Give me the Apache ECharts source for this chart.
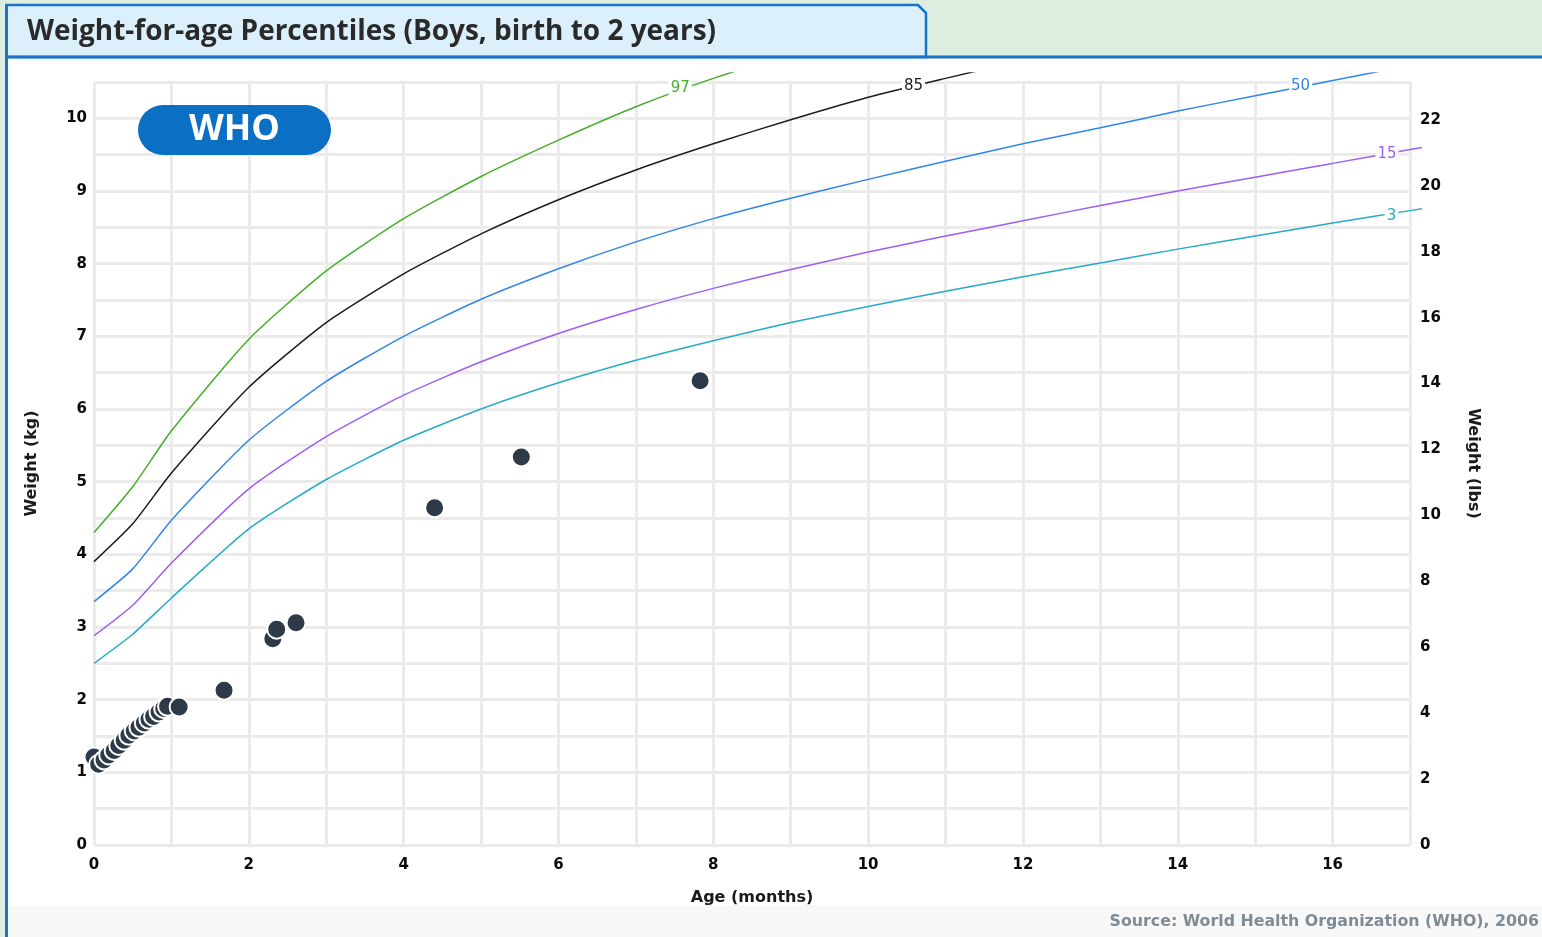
<!DOCTYPE html>
<html><head><meta charset="utf-8">
<script src="https://cdn.jsdelivr.net/npm/echarts@6/dist/echarts.min.js"></script>
<style>html,body{margin:0;padding:0;background:#ddeee0;overflow:hidden}#c{width:1542px;height:937px}</style>
</head><body><div id="c"></div>
<script>
// ---- data ----
const titleText = 'Weight-for-age Percentiles (Boys, birth to 2 years)';
const sourceText = 'Source: World Health Organization (WHO), 2006';
const months = [0, 0.5, 1, 2, 3, 4, 5, 6, 7, 8, 9, 10, 11, 12, 13, 14, 15, 16, 17, 18];
const p3  = [2.50, 2.90, 3.40, 4.35, 5.03, 5.57, 6.00, 6.36, 6.67, 6.94, 7.19, 7.41, 7.62, 7.82, 8.01, 8.20, 8.38, 8.56, 8.73, 8.90];
const p15 = [2.88, 3.30, 3.88, 4.90, 5.62, 6.19, 6.65, 7.04, 7.37, 7.66, 7.92, 8.16, 8.38, 8.59, 8.80, 9.00, 9.19, 9.38, 9.57, 9.75];
const p50 = [3.35, 3.80, 4.47, 5.57, 6.38, 7.00, 7.51, 7.93, 8.30, 8.62, 8.90, 9.16, 9.41, 9.65, 9.87, 10.10, 10.31, 10.52, 10.73, 10.94];
const p85 = [3.90, 4.42, 5.12, 6.30, 7.19, 7.86, 8.41, 8.88, 9.29, 9.65, 9.98, 10.29, 10.55, 10.80, 11.05, 11.29, 11.52, 11.75, 11.98, 12.20];
const p97 = [4.30, 4.93, 5.70, 6.96, 7.90, 8.62, 9.20, 9.70, 10.16, 10.55, 10.88, 11.18, 11.46, 11.73, 12.00, 12.27, 12.53, 12.78, 13.03, 13.28];
const percentileNames = ['97', '85', '50', '15', '3'];
const labelMonths = [8, 11, 16, 17, 17];
const ptMonths  = [0.00, 0.06, 0.13, 0.19, 0.26, 0.32, 0.39, 0.45, 0.52, 0.58, 0.65, 0.71, 0.77, 0.84, 0.90, 0.95, 1.10, 1.68, 2.31, 2.36, 2.61, 4.40, 5.52, 7.83];
const ptWeights = [1.21, 1.11, 1.17, 1.24, 1.30, 1.37, 1.44, 1.51, 1.57, 1.62, 1.68, 1.73, 1.77, 1.83, 1.88, 1.91, 1.90, 2.13, 2.84, 2.97, 3.06, 4.64, 5.34, 6.39];
const xMax = 17, yMaxKg = 10.5, KG_TO_LB = 2.20462;

// ---- layout / style ----
const G = {left: 94, top: 82, width: 1316, height: 763};
const PAD_TOP = 9, PAD_RIGHT = 10; // curves run a little past the grid frame
const seriesStyle = {
  '97': {color: '#45ae2a', offset: [-33, 10]},
  '85': {color: '#1c1c1c', offset: [-32, 8]},
  '50': {color: '#2f86e8', offset: [-32, 6]},
  '15': {color: '#a05cf4', offset: [-23, 5]},
  '3':  {color: '#25abc6', offset: [-18.5, 5.5]}
};
const curves = {'97': p97, '85': p85, '50': p50, '15': p15, '3': p3};
const tickFont = {fontFamily: 'DejaVu Sans', fontWeight: 'bold', fontSize: 15, color: '#0a0a0a'};
const nameFont = {fontFamily: 'DejaVu Sans', fontWeight: 'bold', fontSize: 16, color: '#1a1a1a'};

// measure title to mimic the condensed face
const cv = document.createElement('canvas').getContext('2d');
const titleFont = 'bold 28px "Open Sans"';
cv.font = titleFont;
const titleScale = 689 / cv.measureText(titleText).width;

const chart = echarts.init(document.getElementById('c'), null, {renderer: 'canvas'});

const lineSeries = percentileNames.map((name, k) => {
  const vals = curves[name];
  const li = months.indexOf(labelMonths[k]);
  const st = seriesStyle[name];
  return {
    type: 'line', name: name, xAxisIndex: 1, yAxisIndex: 2,
    data: months.map((m, i) => i === li ? {
      value: [m, vals[i]],
      label: {show: true, position: 'inside', offset: st.offset, formatter: name,
        color: st.color, fontFamily: 'DejaVu Sans', fontSize: 15, backgroundColor: '#fff', padding: [0, 2]}
    } : [m, vals[i]]),
    smooth: 0.2, showSymbol: true, symbol: 'circle', symbolSize: 0,
    clip: true, silent: true, z: 3,
    lineStyle: {color: st.color, width: 1.5}, itemStyle: {color: st.color},
    label: {show: false}
  };
});

const option = {
  animation: false,
  graphic: [
    {type: 'rect', z: -10, silent: true, shape: {x: 0, y: 0, width: 1542, height: 937}, style: {fill: '#ddeee0'}},
    {type: 'rect', z: -9, silent: true, shape: {x: 7, y: 57, width: 1535, height: 880}, style: {fill: '#ffffff'}},
    {type: 'rect', z: -9, silent: true, shape: {x: 8, y: 905, width: 1534, height: 32}, style: {fill: '#f8f8f8'}},
    {type: 'polygon', z: -8, silent: true, shape: {points: [[6.5, 57], [6.5, 5], [918, 5], [926, 13], [926, 57]]},
      style: {fill: '#dcf0fc', stroke: '#1a73c4', lineWidth: 2.5}},
    {type: 'line', z: -7, silent: true, shape: {x1: 6.5, y1: 57, x2: 1542, y2: 57}, style: {stroke: '#1a73c4', lineWidth: 3}},
    {type: 'line', z: -7, silent: true, shape: {x1: 6.5, y1: 5, x2: 6.5, y2: 937}, style: {stroke: '#1a73c4', lineWidth: 3}},
    {type: 'text', z: 5, silent: true, x: 27, y: 32, scaleX: titleScale, scaleY: 1,
      style: {text: titleText, font: titleFont, fill: '#2a2a2a', textVerticalAlign: 'middle'}},
    {type: 'rect', z: 10, silent: true, shape: {x: 138, y: 105, width: 193, height: 50, r: 25}, style: {fill: '#0b6fc3'}},
    {type: 'text', z: 11, silent: true, x: 234.5, y: 130,
      style: {text: 'WHO', font: 'bold 36px "Open Sans"', fill: '#ffffff', textAlign: 'center', textVerticalAlign: 'middle'}},
    {type: 'text', z: 5, silent: true, x: 1539, y: 922,
      style: {text: sourceText, font: 'bold 15.8px "DejaVu Sans"', fill: '#7f8b97', textAlign: 'right', textVerticalAlign: 'middle'}}
  ],
  grid: [
    {left: G.left, top: G.top, width: G.width, height: G.height, containLabel: false},
    {left: G.left, top: G.top - PAD_TOP, width: G.width + PAD_RIGHT, height: G.height + PAD_TOP, containLabel: false}
  ],
  xAxis: [
    {type: 'value', gridIndex: 0, min: 0, max: xMax, interval: 1,
      name: 'Age (months)', nameLocation: 'middle', nameGap: 45, nameTextStyle: nameFont,
      axisLine: {show: false}, axisTick: {show: false},
      axisLabel: Object.assign({margin: 13, formatter: v => (v % 2 === 0 ? String(v) : '')}, tickFont),
      splitLine: {show: true, lineStyle: {color: '#ebebeb', width: 3}}},
    {type: 'value', gridIndex: 1, show: false, min: 0, max: xMax * (G.width + PAD_RIGHT) / G.width}
  ],
  yAxis: [
    {type: 'value', gridIndex: 0, position: 'left', min: 0, max: yMaxKg, interval: 0.5,
      name: 'Weight (kg)', nameLocation: 'middle', nameGap: 54, nameRotate: 90, nameTextStyle: nameFont,
      axisLine: {show: false}, axisTick: {show: false},
      axisLabel: Object.assign({margin: 7, formatter: v => (Number.isInteger(v) ? String(v) : '')}, tickFont),
      splitLine: {show: true, lineStyle: {color: '#ebebeb', width: 3}}},
    {type: 'value', gridIndex: 0, position: 'right', min: 0, max: yMaxKg * KG_TO_LB, interval: 2,
      name: 'Weight (lbs)', nameLocation: 'middle', nameGap: 55, nameRotate: -90, nameTextStyle: nameFont,
      axisLine: {show: false}, axisTick: {show: false}, splitLine: {show: false},
      axisLabel: Object.assign({margin: 10, formatter: v => (Number.isInteger(v) && v % 2 === 0 ? String(v) : '')}, tickFont)},
    {type: 'value', gridIndex: 1, show: false, min: 0, max: yMaxKg * (G.height + PAD_TOP) / G.height}
  ],
  series: lineSeries.concat([{
    type: 'scatter', name: 'Child', xAxisIndex: 0, yAxisIndex: 0, silent: true, z: 6,
    data: ptMonths.map((m, i) => [m, ptWeights[i]]),
    symbol: 'circle', symbolSize: 19,
    itemStyle: {color: '#2e3a48', borderColor: '#ffffff', borderWidth: 2, opacity: 1}
  }])
};
chart.setOption(option);
</script>
</body></html>
